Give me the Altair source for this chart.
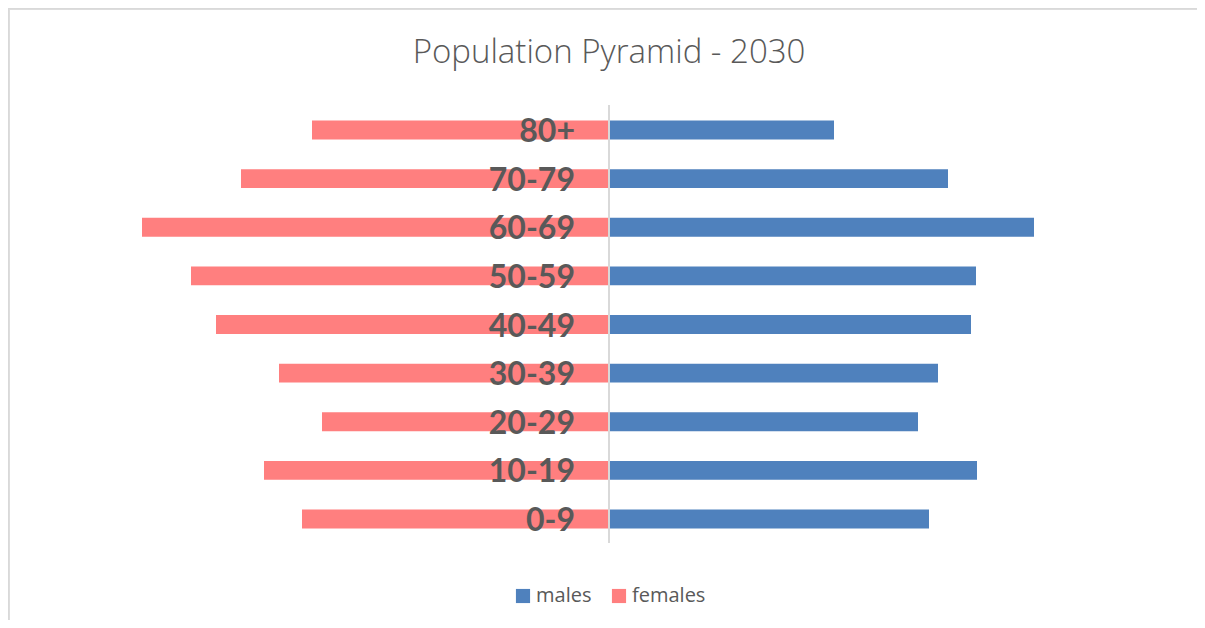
import altair as alt
import pandas as pd

ages = ["80+", "70-79", "60-69", "50-59", "40-49", "30-39", "20-29", "10-19", "0-9"]
males = [225, 339, 425, 367, 362, 329, 309, 368, 320]
females = [297, 368, 467, 418, 393, 330, 287, 345, 307]
series = ["males", "females"]
colors = ["#4f81bd", "#ff7f7f"]
title_text = "Population Pyramid - 2030"

rows = []
for a, m, f in zip(ages, males, females):
    rows.append({"age": a, "sex": "males", "value": m})
    rows.append({"age": a, "sex": "females", "value": -f})
df = pd.DataFrame(rows)
lab = pd.DataFrame({"age": ages})

xs = alt.Scale(domain=[-600, 600], range=[1, 1201])
ys = alt.Scale(domain=ages, range=[97.69, 535.31], paddingInner=0.61, paddingOuter=0.305)

bars = alt.Chart(df).mark_bar().encode(
    x=alt.X("value:Q", scale=xs, axis=None),
    y=alt.Y("age:N", scale=ys, axis=None, sort=ages),
    color=alt.Color(
        "sex:N",
        scale=alt.Scale(domain=series, range=colors),
        legend=alt.Legend(
            title=None,
            orient="none",
            legendX=505,
            legendY=578,
            direction="horizontal",
            symbolType="square",
            symbolSize=200,
            symbolStrokeWidth=0,
            labelFont="Open Sans",
            labelFontSize=20,
            labelColor="#595959",
            labelOffset=3,
            columnPadding=17,
        ),
    ),
)

axis_line = alt.Chart(lab).mark_rule(color="#d9d9d9", strokeWidth=1.5).encode(
    x=alt.datum(0, scale=xs), y=alt.value(97), y2=alt.value(535)
)

frame_top = alt.Chart(lab).mark_rule(color="#d9d9d9", strokeWidth=1.5).encode(
    x=alt.value(0), x2=alt.value(1189), y=alt.value(0.5)
)
frame_left = alt.Chart(lab).mark_rule(color="#d9d9d9", strokeWidth=1.5).encode(
    x=alt.value(0.5), y=alt.value(0), y2=alt.value(612)
)

labels = alt.Chart(lab).mark_text(
    align="right", baseline="middle", font="Lato", fontWeight="bold",
    fontSize=32, color="#595959", dx=-34, dy=2
).encode(
    x=alt.datum(0),
    y=alt.Y("age:N", scale=ys, axis=None, sort=ages),
    text="age:N",
)

title = alt.Chart(pd.DataFrame({"t": [title_text]})).mark_text(
    align="center", baseline="middle", font="Open Sans", fontSize=33, fontWeight=300,
    color="#595959"
).encode(x=alt.value(601), y=alt.value(45), text="t:N")

chart = alt.layer(bars, axis_line, frame_top, frame_left, labels, title).properties(
    width=1189, height=612, autosize=alt.AutoSizeParams(type="none"), padding=0
).configure_view(stroke=None)

chart.save("out.html", embed_options={"renderer": "svg", "actions": False})
